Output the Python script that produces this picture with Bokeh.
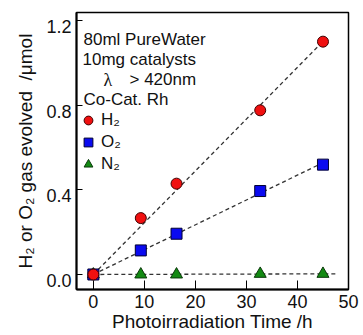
import numpy as np
from bokeh.plotting import figure
from bokeh.models import Range1d, Label, Legend, LegendItem, FixedTicker, LinearAxis, PrintfTickFormatter
from bokeh.embed import file_html
from bokeh.resources import INLINE

# ---- data ----
time_h = [0.0, 9.3, 16.3, 32.7, 45.0]
h2_umol = [0.0, 0.267, 0.43, 0.777, 1.102]
o2_umol = [0.0, 0.114, 0.193, 0.395, 0.52]
n2_umol = [0.0, 0.0, 0.0, 0.003, 0.003]
fit_end_h2 = 45.0
fit_end_o2 = 45.0
fit_end_n2 = 47.5
x_ticks = [0, 10, 20, 30, 40, 50]
y_ticks = [0.0, 0.4, 0.8, 1.2]
series_names = ["H₂", "O₂", "N₂"]
notes = ["80ml PureWater", "10mg catalysts", "λ", "> 420nm", "Co-Cat. Rh"]

FONT = "Liberation Sans"
Y0, Y1 = -0.071, 1.24
W, H = 363, 335
BL, BR, BT, BB = 76, 15, 12, 46

p = figure(width=W, height=H, output_backend="svg", toolbar_location=None,
           x_range=Range1d(-3.3, 50.0), y_range=Range1d(Y0, Y1),
           min_border_left=BL, min_border_right=BR, min_border_top=BT, min_border_bottom=BB)
p.background_fill_color = "white"
p.border_fill_color = "white"
p.outline_line_color = "black"
p.outline_line_width = 1.5
p.grid.visible = False

# in the reference the y tick labels sit ~6px below their ticks:
# a label-only axis on a range shifted by that many pixels
shift = 6 * (Y1 - Y0) / (H - BT - BB)
p.extra_y_ranges = {"labels": Range1d(Y0 + shift, Y1 + shift)}

p.xaxis.ticker = FixedTicker(ticks=x_ticks)
p.yaxis.ticker = FixedTicker(ticks=y_ticks)
ylab = LinearAxis(y_range_name="labels", ticker=FixedTicker(ticks=y_ticks),
                  formatter=PrintfTickFormatter(format="%.1f"))
p.add_layout(ylab, "left")

for ax in (p.xaxis[0], p.yaxis[0], ylab):
    ax.axis_line_color = "black"
    ax.axis_line_width = 2
    ax.major_tick_line_color = "black"
    ax.major_tick_line_width = 1
    ax.major_tick_out = 0
    ax.minor_tick_line_color = None
    ax.major_label_text_font = FONT
    ax.major_label_text_font_size = "18px"
    ax.major_label_text_color = "#111111"
    ax.axis_label_text_font = FONT
    ax.axis_label_text_font_size = "19px"
    ax.axis_label_text_font_style = "normal"
    ax.axis_label_text_color = "#111111"
p.xaxis.major_tick_in = 9
p.xaxis.major_label_standoff = 5
p.xaxis.axis_label_standoff = 0
p.xaxis.axis_label = "Photoirradiation Time /h"

main_y = p.yaxis[0]
main_y.major_tick_in = 6
main_y.major_label_overrides = {t: "" for t in y_ticks}
main_y.major_label_standoff = 0

ylab.axis_line_color = None
ylab.major_tick_line_color = None
ylab.major_tick_in = 0
ylab.major_label_standoff = 5
ylab.axis_label_standoff = 7
ylab.axis_label = "H₂ or O₂ gas evolved\u00a0\u00a0/μmol"

# fitted dashed lines through the origin
t = np.array(time_h)
def fit_line(vals, xend):
    v = np.array(vals)
    slope = float((t * v).sum() / (t * t).sum())
    xs = [0.0, xend]
    return xs, [slope * x for x in xs]

for vals, xend in ((h2_umol, fit_end_h2), (o2_umol, fit_end_o2), (n2_umol, fit_end_n2)):
    xs, ys = fit_line(vals, xend)
    p.line(xs, ys, line_color="#333333", line_width=1.3, line_dash="4 3")

r_n2 = p.scatter(time_h, n2_umol, marker="triangle", size=12, fill_color="#138a13",
                 line_color="#0a3a0a", line_width=1)
r_o2 = p.scatter(time_h, o2_umol, marker="square", size=11, fill_color="#0a0af0",
                 line_color="#000033", line_width=1)
r_h2 = p.scatter(time_h, h2_umol, marker="circle", size=11, fill_color="#f01010",
                 line_color="#400000", line_width=1)

legend = Legend(items=[LegendItem(label=series_names[0], renderers=[r_h2]),
                       LegendItem(label=series_names[1], renderers=[r_o2]),
                       LegendItem(label=series_names[2], renderers=[r_n2])],
                location=(1, 114), orientation="vertical",
                background_fill_alpha=0, border_line_alpha=0,
                padding=0, margin=0, spacing=0,
                glyph_width=22, glyph_height=22, label_height=22,
                label_standoff=2, label_text_font=FONT, label_text_font_size="17px",
                label_text_color="#111111")
p.add_layout(legend)

# text block in the top-left corner
note_style = dict(x_units="screen", y_units="screen", text_font=FONT,
                  text_font_size="17px", text_color="#111111", text_baseline="alphabetic")
p.add_layout(Label(x=7, y=250, text=notes[0], **note_style))
p.add_layout(Label(x=6, y=230, text=notes[1], **note_style))
lam_style = dict(note_style)
lam_style["text_font"] = "Liberation Serif"
lam_style["text_font_size"] = "18px"
p.add_layout(Label(x=27, y=210, text=notes[2], **lam_style))
p.add_layout(Label(x=53, y=210, text=notes[3], **note_style))
p.add_layout(Label(x=7, y=190, text=notes[4], **note_style))

open("out.html", "w").write(file_html(p, INLINE))
